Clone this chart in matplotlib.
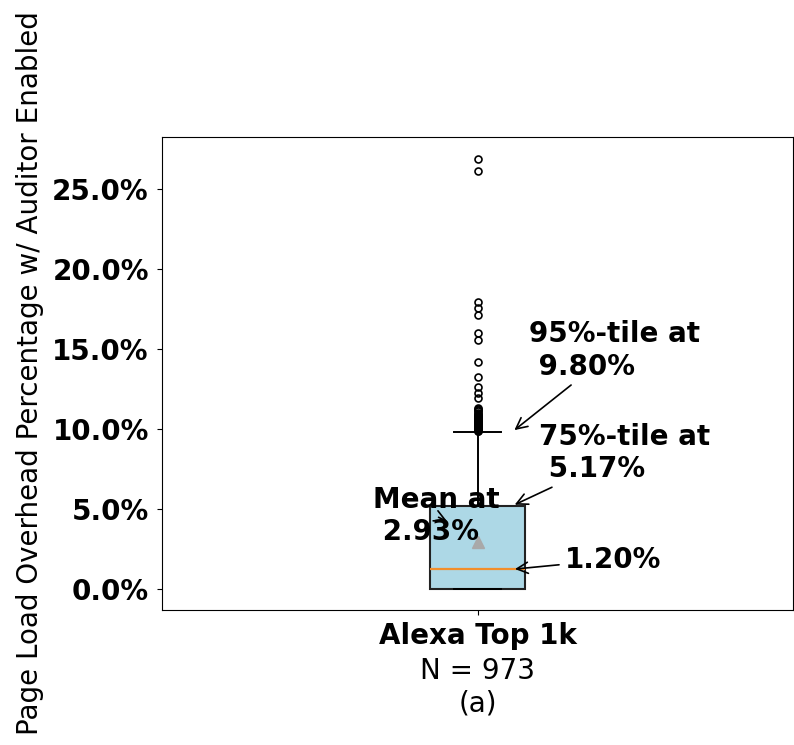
import matplotlib
matplotlib.use("Agg")
import matplotlib.pyplot as plt
from matplotlib.ticker import PercentFormatter

# summary stats of the page load overhead (percent)
label = "Alexa Top 1k"
n_sites = 973
q1 = 0.0
median = 1.20
q3 = 5.17
p95 = 9.80
low = 0.0
mean = 2.93
# points above the 95th percentile
fliers = [9.85, 9.88, 9.90, 9.93, 9.95, 9.98, 10.00, 10.03, 10.05, 10.08,
          10.10, 10.13, 10.16, 10.20, 10.24, 10.28, 10.32, 10.36, 10.40, 10.45,
          10.50, 10.55, 10.60, 10.65, 10.70, 10.75, 10.80, 10.86, 10.92, 11.00,
          11.08, 11.15, 11.22, 11.30, 11.90, 12.25, 12.60, 13.25, 14.20, 15.55,
          16.00, 17.10, 17.55, 17.90, 26.10, 26.90]


def main():
    fig = plt.figure(figsize=(7.94, 7.45), dpi=100)
    ax = fig.add_axes([162/794, 135/745, 631/794, 473/745])

    stats = [{'med': median, 'q1': q1, 'q3': q3, 'whislo': low, 'whishi': p95,
              'mean': mean, 'fliers': fliers, 'label': label}]
    ax.bxp(stats, positions=[1], widths=[0.15], showmeans=True, patch_artist=True,
           boxprops=dict(facecolor='lightblue', edgecolor='#222222', linewidth=1.5),
           whiskerprops=dict(linewidth=1.4),
           capprops=dict(linewidth=1.4),
           medianprops=dict(color='#f28e2b', linewidth=1.6),
           meanprops=dict(marker='^', markerfacecolor='darkgray',
                          markeredgecolor='darkgray', markersize=8),
           flierprops=dict(marker='o', markerfacecolor='none',
                           markeredgecolor='black', markersize=5, markeredgewidth=1.2))
    ax.set_xlim(0.5, 1.5)
    ax.yaxis.set_major_formatter(PercentFormatter(decimals=1))
    ax.tick_params(axis='y', pad=6)
    ax.tick_params(axis='x', pad=5.5)
    for t in ax.get_yticklabels() + ax.get_xticklabels():
        t.set_fontsize(20)
        t.set_fontweight('bold')
    ax.set_ylabel("Page Load Overhead Percentage w/ Auditor Enabled", fontsize=20,
                  labelpad=6)
    ax.set_xlabel(f"N = {n_sites}\n(a)", fontsize=20, labelpad=5)

    arrow = dict(arrowstyle='->', color='black', lw=1.2)
    ax.annotate(f"95%-tile at\n {p95:.2f}%", xy=(1.055, p95), xytext=(1.082, 14.9),
                fontsize=20, fontweight='bold', ha='left', va='center', arrowprops=arrow)
    ax.annotate(f"75%-tile at\n {q3:.2f}%", xy=(1.055, q3), xytext=(1.098, 8.47),
                fontsize=20, fontweight='bold', ha='left', va='center', arrowprops=arrow)
    ax.annotate(f"{median:.2f}%", xy=(1.055, median), xytext=(1.138, 1.81),
                fontsize=20, fontweight='bold', ha='left', va='center', arrowprops=arrow)
    ax.annotate(f"Mean at\n {mean:.2f}%", xy=(0.956, 4.12), xytext=(0.834, 4.53),
                fontsize=20, fontweight='bold', ha='left', va='center', arrowprops=arrow)

    fig.savefig("out.png", dpi=100)


if __name__ == "__main__":
    main()
